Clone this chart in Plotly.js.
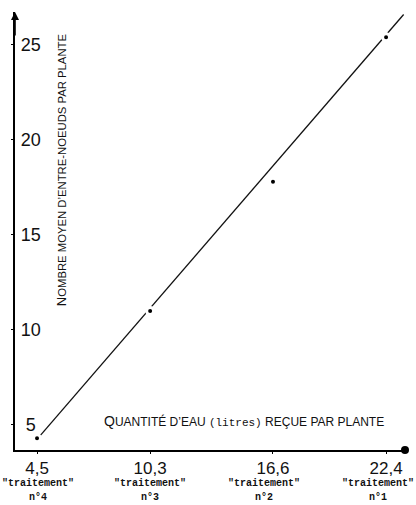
<!DOCTYPE html>
<html><head><meta charset="utf-8">
<script src="https://cdn.plot.ly/plotly-3.0.1.min.js"></script>
<style>html,body{margin:0;padding:0;background:#fff}</style>
</head><body><div id="chart" style="width:416px;height:505px"></div>
<script>
// Data
const waterLitres = [4.5, 10.3, 16.6, 22.4];
const waterLabels = ['4,5', '10,3', '16,6', '22,4'];
const treatmentNames = ['n°4', 'n°3', 'n°2', 'n°1'];
const internodes = [4.3, 11.0, 17.8, 25.4];
const fitX = [4.65, 23.3];
const fitY = [4.42, 26.6];
const yTicks = [5, 10, 15, 20, 25];
const yTickLabels = ['5 ', '10', '15', '20', '25'];

const mono = 'Liberation Mono';
const sans = 'Liberation Sans';

const traces = [
  {x: fitX, y: fitY, mode: 'lines', type: 'scatter',
   line: {color: '#111', width: 1.3}, hoverinfo: 'skip'},
  {x: waterLitres, y: internodes, mode: 'markers', type: 'scatter',
   marker: {color: '#000', size: 7, line: {color: '#fff', width: 3}}, cliponaxis: false}
];

const labelShift = [1, 0, -9, -8];
const annotations = [];
waterLitres.forEach((x, i) => {
  annotations.push({x: x, xref: 'x', y: 0, yref: 'paper', yanchor: 'middle', yshift: -33, xshift: labelShift[i],
    text: '"traitement"', showarrow: false, font: {family: mono, size: 10, color: '#111', weight: 'bold'}});
  annotations.push({x: x, xref: 'x', y: 0, yref: 'paper', yanchor: 'middle', yshift: -47, xshift: labelShift[i],
    text: treatmentNames[i], showarrow: false, font: {family: mono, size: 10, color: '#111', weight: 'bold'}});
});
// axis titles
annotations.push({x: 0.223, xref: 'paper', xanchor: 'left', align: 'left', y: 0, yref: 'paper', yanchor: 'middle', yshift: 29,
  text: '<span style="font-size:14px">Q</span>UANTITÉ D\u2019EAU <span style="font-family:Liberation Mono;font-size:11px">(litres)</span> REÇUE PAR PLANTE',
  showarrow: false, font: {family: sans, size: 12, color: '#111'}});
annotations.push({x: 0, xref: 'paper', xshift: 37, y: 0.64, yref: 'paper',
  textangle: -90,
  text: '<span style="font-size:13px">N</span>OMBRE MOYEN D\u2019ENTRE-NOEUDS PAR PLANTE',
  showarrow: false, font: {family: sans, size: 11.3, color: '#111'}});
// y-axis arrow
annotations.push({x: 0, xref: 'paper', y: 1, yref: 'paper', ax: 0, ay: 25, text: '',
  showarrow: true, arrowhead: 2, arrowsize: 1, arrowwidth: 1.6, arrowcolor: '#000'});

const layout = {
  width: 416, height: 505,
  margin: {l: 15, r: 11, t: 12, b: 55},
  paper_bgcolor: '#fff', plot_bgcolor: '#fff',
  showlegend: false,
  xaxis: {range: [3.37, 23.37], showgrid: false, zeroline: false,
    showline: true, linecolor: '#000', linewidth: 1.6,
    tickmode: 'array', tickvals: waterLitres, ticktext: waterLabels,
    ticks: 'outside', ticklen: 2, tickcolor: '#000', ticklabeloverflow: 'allow',
    tickfont: {family: sans, size: 17, color: '#111'}},
  yaxis: {range: [3.68, 26.73], showgrid: false, zeroline: false,
    showline: true, linecolor: '#000', linewidth: 1.6,
    tickmode: 'array', tickvals: yTicks, ticktext: yTickLabels,
    ticks: 'outside', ticklen: 2, tickcolor: '#000',
    ticklabelposition: 'outside', ticklabelstandoff: -33, ticklabeloverflow: 'allow',
    tickfont: {family: sans, size: 18, color: '#111'}},
  annotations: annotations,
  shapes: [{type: 'circle', xref: 'paper', yref: 'paper', xsizemode: 'pixel', ysizemode: 'pixel',
    xanchor: 1, yanchor: 0, x0: -4, x1: 4, y0: -4, y1: 4,
    fillcolor: '#000', line: {color: '#000', width: 0}}]
};

Plotly.newPlot('chart', traces, layout, {displayModeBar: false, staticPlot: true});
</script></body></html>
